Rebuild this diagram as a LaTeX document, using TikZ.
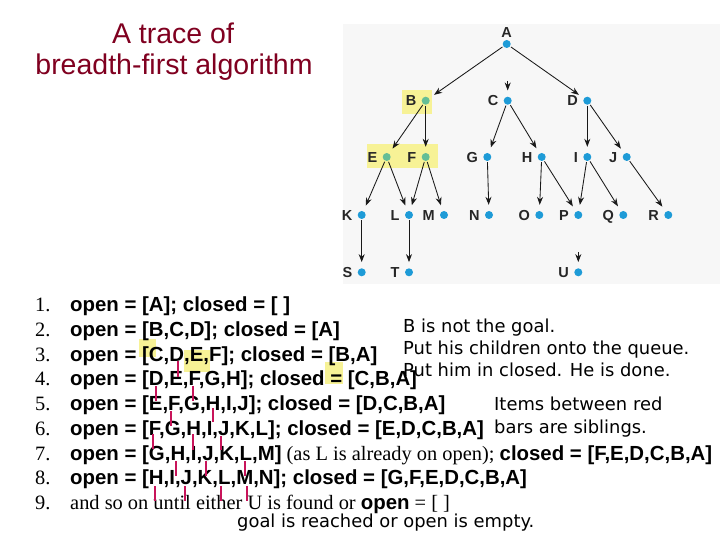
\documentclass[tikz,border=0pt]{standalone}
\usepackage{fontspec}
\setmainfont{Liberation Serif}
\newfontfamily\arialf{Liberation Sans}
\newfontfamily\dejavu{DejaVu Sans}
\usetikzlibrary{arrows.meta}
\definecolor{dotblue}{RGB}{30,155,215}
\definecolor{dotgreen}{RGB}{100,190,150}
\definecolor{hlyellow}{RGB}{247,242,150}
\definecolor{barred}{RGB}{200,20,90}
\definecolor{titlered}{RGB}{128,0,32}
\newcommand\bA[1]{{\arialf\bfseries #1}}
\newcommand\tnode[5]{\node[#5] (#1) at (#2,#3) {}; \node[lab, anchor=east] (#1l) at ([xshift=-5pt]#1.west) {#4};}
\tikzset{
 dot/.style={circle, fill=dotblue, inner sep=0pt, minimum size=8pt},
 gdot/.style={dot, fill=dotgreen},
 lab/.style={font=\arialf\bfseries\fontsize{14.5}{15}\selectfont, text=black!85, inner sep=0pt, text height=10.4pt, text depth=0pt},
 edge/.style={-{Stealth[length=8pt,width=6pt]}, line width=0.85pt, black!90, shorten >=6pt, shorten <=1pt},
 row/.style={anchor=base west, inner sep=0pt, font=\fontsize{20.4}{24}\selectfont},
 note/.style={anchor=base west, inner sep=0pt, font=\dejavu\fontsize{17.9}{22}\selectfont},
 bar/.style={barred, line width=1.3pt},
 hl/.style={fill=hlyellow},
 ttl/.style={anchor=base, inner sep=0pt, font=\arialf\fontsize{28.5}{30}\selectfont, text=titlered}
}
\begin{document}
\begin{tikzpicture}[x=1pt,y=-1pt]
\useasboundingbox (0,0) rectangle (720,540);
\fill[white] (0,0) rectangle (720,540);
% tree background and highlights
\fill[black!3] (343,24) rectangle (720,284);
\fill[hl] (402,90) rectangle (431.7,114);
\fill[hl] (366.7,144) rectangle (438,168);
% title
\node[ttl] (title1) at (173,43.3) {A trace of};
\node[ttl] (title2) at (174,75) {breadth-first algorithm};
% tree nodes
\node[dot] (A) at (506.7,44) {};
\node[lab, anchor=south] (Al) at ([yshift=2pt]A.north) {A};
\tnode{B}{425.7}{100.7}{B}{gdot}
\tnode{C}{507.7}{100.7}{C}{dot}
\tnode{D}{587.3}{100.7}{D}{dot}
\tnode{E}{386.7}{157}{E}{gdot}
\tnode{F}{425.7}{157}{F}{gdot}
\tnode{G}{487.3}{157}{G}{dot}
\tnode{H}{541.7}{157}{H}{dot}
\tnode{I}{587.3}{157}{I}{dot}
\tnode{J}{626.7}{157}{J}{dot}
\tnode{K}{361.7}{215}{K}{dot}
\tnode{L}{409}{215}{L}{dot}
\tnode{M}{444}{215}{M}{dot}
\tnode{N}{489}{215}{N}{dot}
\tnode{O}{539.3}{215}{O}{dot}
\tnode{P}{578.3}{215}{P}{dot}
\tnode{Q}{623.3}{215}{Q}{dot}
\tnode{R}{668.3}{215}{R}{dot}
\tnode{S}{361.7}{272.3}{S}{dot}
\tnode{T}{409}{272.3}{T}{dot}
\tnode{U}{578.3}{272.3}{U}{dot}
\coordinate (Cin) at (507.7,80);
\coordinate (Uin) at (578.3,251);
% tree edges
\draw[edge] (A) -- (B);
\draw[edge] (Cin) -- (C);
\draw[edge] (A) -- (D);
\draw[edge] (B) -- (E);
\draw[edge] (B) -- (F);
\draw[edge] (C) -- (G);
\draw[edge] (C) -- (H);
\draw[edge] (D) -- (I);
\draw[edge] (D) -- (J);
\draw[edge] (E) -- (K);
\draw[edge] (E) -- (L);
\draw[edge] (F) -- (L);
\draw[edge] (F) -- (M);
\draw[edge] (G) -- (N);
\draw[edge] (H) -- (O);
\draw[edge] (H) -- (P);
\draw[edge] (I) -- (P);
\draw[edge] (I) -- (Q);
\draw[edge] (J) -- (R);
\draw[edge] (K) -- (S);
\draw[edge] (L) -- (T);
\draw[edge] (Uin) -- (U);
% text highlights
\fill[hl] (139,339) rectangle (156,357);
\fill[hl] (184,350) rectangle (210,372);
\fill[hl] (325,362) rectangle (343,384);
% numbered lines
\node[row] (n1) at (35,311.5) {1.};
\node[row] (n2) at (35,336.25) {2.};
\node[row] (n3) at (35,361) {3.};
\node[row] (n4) at (35,385.75) {4.};
\node[row] (n5) at (35,410.5) {5.};
\node[row] (n6) at (35,435.25) {6.};
\node[row] (n7) at (35,460) {7.};
\node[row] (n8) at (35,484.75) {8.};
\node[row] (n9) at (35,509) {9.};
\node[row] (r1) at (70,311.5) {\bA{open = [A]; closed = [ ]}};
\node[row] (r2) at (70,336.25) {\bA{open = [B,C,D]; closed = [A]}};
\node[row] (r3) at (70,361) {\bA{open = [C,D,E,F]; closed = [B,A]}};
\node[row] (r4) at (70,385.75) {\bA{open = [D,E,F,G,H]; closed = [C,B,A]}};
\node[row] (r5) at (70,410.5) {\bA{open = [E,F,G,H,I,J]; closed = [D,C,B,A]}};
\node[row] (r6) at (70,435.25) {\bA{open = [F,G,H,I,J,K,L]; closed = [E,D,C,B,A]}};
\node[row] (r7) at (70,460) {\bA{open = [G,H,I,J,K,L,M]} (as L is already on open); \bA{closed = [F,E,D,C,B,A]}};
\node[row] (r8) at (70,484.75) {\bA{open = [H,I,J,K,L,M,N]; closed = [G,F,E,D,C,B,A]}};
\node[row] (r9) at (70,509) {and so on until either U is found or \bA{open} = [ ]};
% red sibling bars
\draw[bar] (178,361) -- (178,377);
\draw[bar] (156,386) -- (156,401);
\draw[bar] (193,386) -- (193,401);
\draw[bar] (171,411) -- (171,426);
\draw[bar] (213,408) -- (213,422);
\draw[bar] (153,434) -- (153,449);
\draw[bar] (193,434) -- (193,450);
\draw[bar] (221,436) -- (221,450);
\draw[bar] (176,461) -- (176,476);
\draw[bar] (206,461) -- (206,476);
\draw[bar] (245,461) -- (245,476);
\draw[bar] (155,486) -- (155,501);
\draw[bar] (185,486) -- (185,501);
\draw[bar] (221,486) -- (221,501);
\draw[bar] (247,486) -- (247,501);
% notes
\node[note] (b1) at (403,332) {B is not the goal.};
\node[note] (b2) at (403,354) {Put his children onto the queue.};
\node[note] (b3) at (403,376) {Put him in closed. He is done.};
\node[note] (s1) at (494,410) {Items between red};
\node[note] (s2) at (494,433) {bars are siblings.};
\node[note] (g1) at (237,527) {goal is reached or open is empty.};
\end{tikzpicture}
\end{document}
